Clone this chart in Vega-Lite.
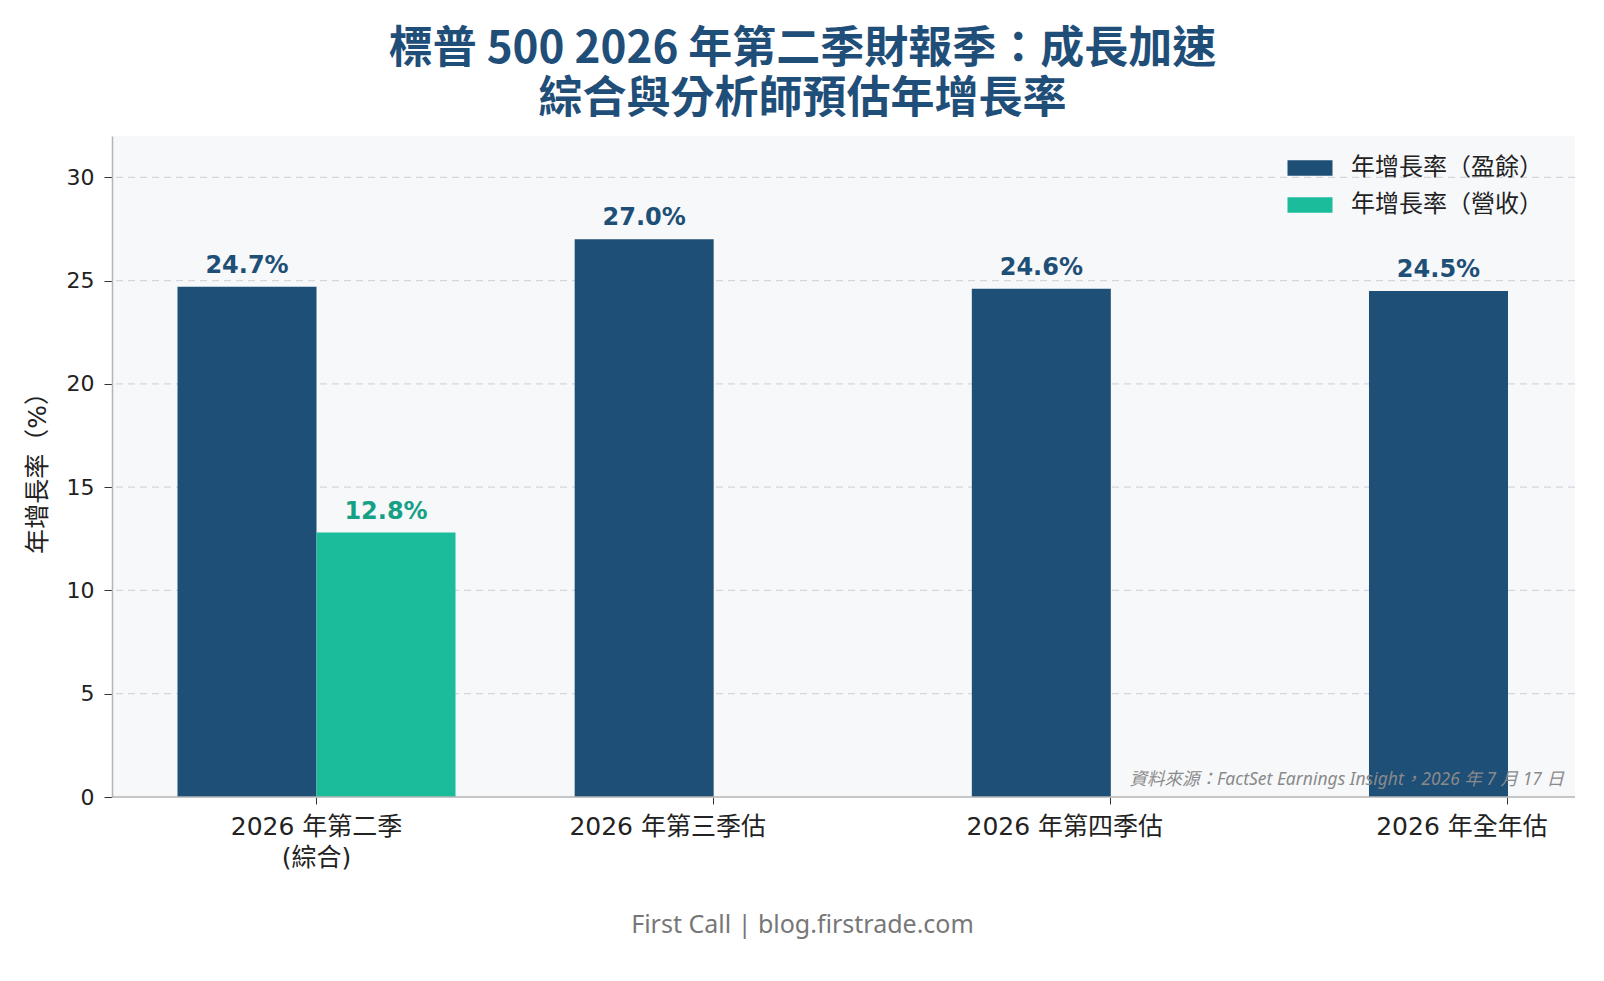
{
  "$schema": "https://vega.github.io/schema/vega-lite/v6.json",
  "width": 1463,
  "height": 661,
  "autosize": "none",
  "padding": {"left": 112, "top": 136, "right": 29, "bottom": 184},
  "background": "#ffffff",
  "title": {
    "text": ["標普 500 2026 年第二季財報季：成長加速", "綜合與分析師預估年增長率"],
    "font": "Noto Sans CJK TC",
    "fontSize": 44,
    "fontWeight": "bold",
    "color": "#1f4e79",
    "anchor": "middle",
    "frame": "group",
    "dx": -41,
    "offset": 14,
    "lineHeight": 50
  },
  "config": {
    "view": {"fill": "#f7f8fa", "stroke": null},
    "axis": {"labelColor": "#222222", "titleColor": "#222222"}
  },
  "datasets": {
    "growth": [
      {"period": "2026 年第二季\n(綜合)", "series": "年增長率（盈餘）", "value": 24.7, "label": "24.7%"},
      {"period": "2026 年第二季\n(綜合)", "series": "年增長率（營收）", "value": 12.8, "label": "12.8%"},
      {"period": "2026 年第三季估", "series": "年增長率（盈餘）", "value": 27.0, "label": "27.0%"},
      {"period": "2026 年第四季估", "series": "年增長率（盈餘）", "value": 24.6, "label": "24.6%"},
      {"period": "2026 年全年估", "series": "年增長率（盈餘）", "value": 24.5, "label": "24.5%"}
    ],
    "gridlines": [
      {"tick": 5}, {"tick": 10}, {"tick": 15}, {"tick": 20}, {"tick": 25}, {"tick": 30}
    ]
  },
  "layer": [
    {
      "data": {"name": "gridlines"},
      "mark": {"type": "rule", "color": "#d3d6db", "strokeWidth": 1.2, "strokeDash": [7, 5]},
      "encoding": {"y": {"field": "tick", "type": "quantitative"}}
    },
    {
      "data": {"name": "growth"},
      "mark": {"type": "bar"},
      "encoding": {
        "x": {
          "field": "period",
          "type": "nominal",
          "scale": {
            "domain": ["2026 年第二季\n(綜合)", "2026 年第三季估", "2026 年第四季估", "2026 年全年估"],
            "range": [65.5, 1535],
            "paddingInner": 0.3,
            "paddingOuter": 0
          },
          "axis": {
            "title": "First Call | blog.firstrade.com",
            "titleFont": "Noto Sans",
            "titleFontSize": 25,
            "titleFontWeight": "normal",
            "titleColor": "#777777",
            "titleX": 690,
            "titleY": 127,
            "titleBaseline": "middle",
            "titleAnchor": "middle",
            "labelExpr": "split(datum.label, '\\n')",
            "labelFont": "DejaVu Sans, Noto Sans CJK TC",
            "labelFontSize": 25,
            "labelLineHeight": 31,
            "labelAngle": 0,
            "labelPadding": 10,
            "labelLimit": 500,
            "labelOffset": {"condition": {"test": "indexof(datum.value, '第二季') >= 0", "value": 0}, "value": -46},
            "tickSize": 7,
            "tickColor": "#333333",
            "domain": false,
            "grid": false
          }
        },
        "xOffset": {
          "field": "series",
          "type": "nominal",
          "scale": {"domain": ["年增長率（盈餘）", "年增長率（營收）"], "paddingInner": 0, "paddingOuter": 0}
        },
        "y": {
          "field": "value",
          "type": "quantitative",
          "scale": {"domain": [0, 32], "nice": false},
          "axis": {
            "title": "年增長率（%）",
            "titleFont": "DejaVu Sans, Noto Sans CJK TC",
            "titleFontSize": 25,
            "titleFontWeight": "normal",
            "titlePadding": 16,
            "values": [0, 5, 10, 15, 20, 25, 30],
            "labelFont": "DejaVu Sans",
            "labelFontSize": 22,
            "labelPadding": 10,
            "tickSize": 8,
            "tickColor": "#333333",
            "domainColor": "#b5b5b5",
            "domainWidth": 1.5,
            "grid": false
          }
        },
        "color": {
          "field": "series",
          "type": "nominal",
          "scale": {"domain": ["年增長率（盈餘）", "年增長率（營收）"], "range": ["#1e4f77", "#1abc9c"]},
          "legend": {
            "title": null,
            "orient": "none",
            "legendX": 1186,
            "legendY": 20,
            "padding": 0,
            "symbolType": "M-2,-0.68H2V0.68H-2Z",
            "symbolSize": 506,
            "symbolStrokeWidth": 0,
            "labelOffset": 29,
            "labelFont": "Noto Sans CJK TC",
            "labelFontSize": 24,
            "labelColor": "#222222",
            "rowPadding": 13,
            "labelLimit": 400
          }
        }
      }
    },
    {
      "data": {"name": "growth"},
      "mark": {"type": "text", "baseline": "bottom", "dy": -9, "font": "DejaVu Sans", "fontWeight": "bold", "fontSize": 24},
      "encoding": {
        "x": {"field": "period", "type": "nominal"},
        "xOffset": {"field": "series", "type": "nominal"},
        "y": {"field": "value", "type": "quantitative"},
        "text": {"field": "label", "type": "nominal"},
        "color": {
          "field": "series",
          "type": "nominal",
          "scale": {"domain": ["年增長率（盈餘）", "年增長率（營收）"], "range": ["#1e4f77", "#16a085"]},
          "legend": null
        }
      }
    },
    {
      "data": {"values": [{"base": 0}]},
      "mark": {"type": "rule", "color": "#b5b5b5", "strokeWidth": 1.5},
      "encoding": {"y": {"field": "base", "type": "quantitative"}}
    },
    {
      "data": {"values": [{"note": "資料來源：FactSet Earnings Insight，2026 年 7 月 17 日"}]},
      "mark": {"type": "text", "align": "right", "baseline": "alphabetic", "dx": -11, "dy": -12, "font": "Noto Sans, Noto Sans CJK TC", "fontStyle": "italic", "fontSize": 17.5, "color": "#8a8a8a"},
      "encoding": {
        "x": {"value": "width"},
        "y": {"datum": 0, "type": "quantitative"},
        "text": {"field": "note", "type": "nominal"}
      }
    }
  ],
  "resolve": {"scale": {"color": "independent"}}
}
